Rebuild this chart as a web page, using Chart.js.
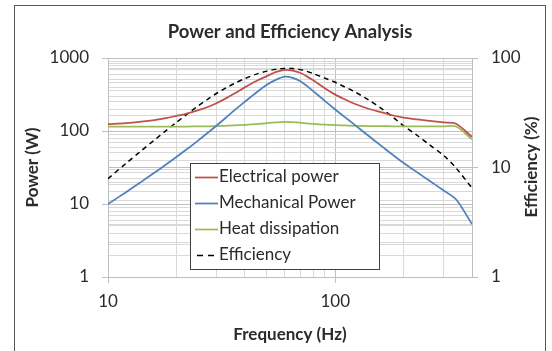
<!DOCTYPE html>
<html>
<head>
<meta charset="utf-8">
<script src="https://cdn.jsdelivr.net/npm/chart.js@4.4.0/dist/chart.umd.min.js"></script>
<style>
  html, body { margin: 0; padding: 0; background: #fff; }
</style>
</head>
<body>
<canvas id="myChart" width="552" height="351"></canvas>
<script>
var ctx = document.getElementById('myChart').getContext('2d');

// measured curves, frequency in Hz
const freqHz = [10, 12, 14, 16, 18, 20, 22, 25, 28, 30, 33, 36, 40, 45, 50, 55, 60, 65, 70, 75, 80, 90, 100, 110, 120, 140, 160, 180, 200, 230, 260, 300, 340, 400];
const electricalW = [124, 128, 134, 141, 150, 161, 172, 193, 218, 240, 280, 326, 396, 485, 565, 645, 688, 672, 628, 560, 495, 385, 315, 272, 240, 202, 180, 163, 152, 144, 138, 131, 126, 83];
const mechanicalW = [10, 14.5, 20.1, 26.8, 34.7, 44, 54.8, 74.5, 99, 118, 152, 192, 251, 337, 429, 505, 555, 535, 483, 415, 352, 258, 197, 156, 126, 86, 62, 46.5, 36.5, 27, 20.8, 15.3, 11.6, 5.3];
const heatW = [115, 115, 115, 115, 115, 115, 115, 116, 116, 117, 118, 119, 121, 124, 128, 131, 133, 132, 130, 127, 125, 122, 120, 119, 118, 117, 117, 116, 116, 116, 116, 116, 115, 77];
const efficiencyPct = [7.9, 10.9, 14.2, 17.8, 21.7, 25.8, 30.1, 36.7, 43.2, 47.4, 53.2, 58.5, 64.9, 71.3, 75.9, 78.9, 80.3, 80, 78.3, 75.5, 72, 65.5, 60, 54.5, 50, 41.5, 34.5, 28.7, 24, 19.6, 16.1, 12.9, 9.9, 6.5];

// log grid lines and the ones that get a label
const freqTicks = [10, 20, 30, 40, 50, 60, 70, 80, 90, 100, 200, 300, 400];
const powerTicks = [1, 2, 3, 4, 5, 6, 7, 8, 9, 10, 20, 30, 40, 50, 60, 70, 80, 90, 100, 200, 300, 400, 500, 600, 700, 800, 900, 1000];
const effTicks = [1, 2, 3, 4, 5, 6, 7, 8, 9, 10, 20, 30, 40, 50, 60, 70, 80, 90, 100];
const decades = [1, 10, 100, 1000];

const FONT = 'Lato';
const TXT = '#2b2b2b';

function pairs(ys) {
    return freqHz.map((f, i) => ({ x: f, y: ys[i] }));
}

function gridColor(c) {
    return decades.includes(c.tick.value) ? '#bfbfbf' : '#d9d9d9';
}
function tickMark(c) {
    return decades.includes(c.tick.value) ? '#bfbfbf' : 'rgba(0,0,0,0)';
}
function onlyDecades(v) {
    return decades.includes(v) ? String(v) : '';
}

// white page, outer frame, right axis title and the boxed legend
const extras = {
    id: 'extras',
    beforeDraw(chart) {
        const c = chart.ctx;
        c.save();
        c.fillStyle = '#fff';
        c.fillRect(0, 0, chart.width, chart.height);
        c.strokeStyle = '#595959';
        c.lineWidth = 1;
        c.strokeRect(14.5, 5.5, 531, 360);
        c.restore();
    },
    afterDraw(chart) {
        const c = chart.ctx;
        c.save();
        c.fillStyle = TXT;
        c.font = 'bold 17px ' + FONT;
        c.textAlign = 'center';
        c.textBaseline = 'middle';
        c.translate(532, 167);
        c.rotate(-Math.PI / 2);
        c.fillText('Efficiency (%)', 0, 0);
        c.restore();

        c.save();
        c.fillStyle = '#fff';
        c.fillRect(190.5, 163.5, 189, 106);
        c.strokeStyle = '#404040';
        c.lineWidth = 1;
        c.strokeRect(190.5, 163.5, 189, 106);
        c.font = '17px ' + FONT;
        c.textBaseline = 'middle';
        const rows = [177, 203, 229, 255];
        chart.data.datasets.forEach((ds, i) => {
            const y = rows[i];
            c.strokeStyle = ds.borderColor;
            c.lineWidth = ds.borderWidth;
            if (ds.borderDash) {
                c.setLineDash([6, 5]);
                c.beginPath();
                c.moveTo(197, y + 0.5);
                c.lineTo(214, y + 0.5);
                c.stroke();
                c.setLineDash([]);
            } else {
                c.beginPath();
                c.moveTo(195, y + 0.5);
                c.lineTo(218, y + 0.5);
                c.stroke();
            }
            c.fillStyle = TXT;
            c.fillText(ds.label, 219, y);
        });
        c.restore();
    }
};

var myChart = new Chart(ctx, {
    type: 'line',
    data: {
        datasets: [{
            label: 'Electrical power',
            data: pairs(electricalW),
            borderColor: '#c0504d',
            borderWidth: 1.75,
            yAxisID: 'y'
        }, {
            label: 'Mechanical Power',
            data: pairs(mechanicalW),
            borderColor: '#4f81bd',
            borderWidth: 1.75,
            yAxisID: 'y'
        }, {
            label: 'Heat dissipation',
            data: pairs(heatW),
            borderColor: '#9bbb59',
            borderWidth: 1.75,
            yAxisID: 'y'
        }, {
            label: 'Efficiency',
            data: pairs(efficiencyPct),
            borderColor: '#000000',
            borderWidth: 1.5,
            borderDash: [5, 4],
            yAxisID: 'y2'
        }]
    },
    options: {
        responsive: false,
        animation: false,
        devicePixelRatio: 1,
        layout: { padding: 0 },
        elements: {
            point: { radius: 0 },
            line: { tension: 0.3, fill: false }
        },
        plugins: {
            legend: { display: false },
            tooltip: { enabled: false },
            title: {
                display: true,
                fullSize: false,
                text: 'Power and Efficiency Analysis',
                color: TXT,
                font: { family: FONT, size: 18.5, weight: 'bold' },
                padding: { top: 21, bottom: 14.8 }
            }
        },
        scales: {
            x: {
                type: 'logarithmic',
                min: 10,
                max: 400,
                afterBuildTicks: s => { s.ticks = freqTicks.map(v => ({ value: v })); },
                afterFit: s => { s.height = 74; },
                ticks: {
                    autoSkip: false,
                    maxRotation: 0,
                    padding: 8,
                    color: TXT,
                    font: { family: FONT, size: 17 },
                    callback: onlyDecades
                },
                grid: { color: gridColor, tickColor: tickMark, tickLength: 6 },
                border: { color: '#bfbfbf' },
                title: {
                    display: true,
                    text: 'Frequency (Hz)',
                    color: TXT,
                    font: { family: FONT, size: 17, weight: 'bold' },
                    padding: { top: 0, bottom: 6 }
                }
            },
            y: {
                type: 'logarithmic',
                position: 'left',
                min: 1,
                max: 1000,
                afterBuildTicks: s => { s.ticks = powerTicks.map(v => ({ value: v })); },
                afterFit: s => { s.width = 108; },
                ticks: {
                    autoSkip: false,
                    padding: 13,
                    color: TXT,
                    font: { family: FONT, size: 17 },
                    callback: onlyDecades
                },
                grid: { color: gridColor, tickColor: tickMark, tickLength: 6 },
                border: { color: '#bfbfbf' },
                title: {
                    display: true,
                    text: 'Power (W)',
                    color: TXT,
                    font: { family: FONT, size: 17, weight: 'bold' },
                    padding: { top: 22, bottom: 0 }
                }
            },
            y2: {
                type: 'logarithmic',
                position: 'right',
                min: 1,
                max: 100,
                afterBuildTicks: s => { s.ticks = effTicks.map(v => ({ value: v })); },
                afterFit: s => { s.width = 80; },
                ticks: {
                    autoSkip: false,
                    padding: 13,
                    color: TXT,
                    font: { family: FONT, size: 17 },
                    callback: onlyDecades
                },
                grid: { color: gridColor, tickColor: tickMark, tickLength: 6 },
                border: { color: '#bfbfbf' }
            }
        }
    },
    plugins: [extras]
});
</script>
</body>
</html>
